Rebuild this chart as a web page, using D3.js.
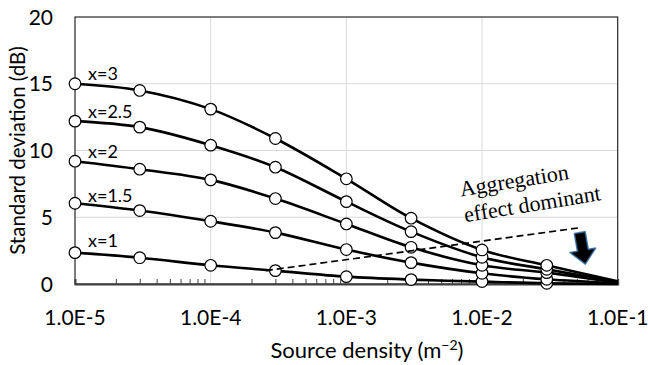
<!DOCTYPE html>
<html>
<head>
<meta charset="utf-8">
<script src="https://cdn.jsdelivr.net/npm/d3@7"></script>
<style>
  html, body { margin: 0; padding: 0; background: #fff; }
  svg { display: block; }
  text { font-family: Lato, "Open Sans", sans-serif; fill: #000; }
</style>
</head>
<body>
<svg id="chart" width="648" height="365"></svg>
<script>
// ---- data ----
const densities = [1e-5, 3e-5, 1e-4, 3e-4, 1e-3, 3e-3, 1e-2, 3e-2, 1e-1];
const seriesNames = ["x=1", "x=1.5", "x=2", "x=2.5", "x=3"];
const sdX1   = [2.35, 1.97, 1.40, 1.00, 0.55, 0.33, 0.18, 0.05, 0.01];
const sdX15  = [6.05, 5.50, 4.70, 3.85, 2.58, 1.60, 0.80, 0.35, 0.05];
const sdX2   = [9.20, 8.60, 7.80, 6.40, 4.50, 2.75, 1.40, 0.85, 0.10];
const sdX25  = [12.2, 11.75, 10.4, 8.75, 6.17, 3.92, 2.00, 1.10, 0.15];
const sdX3   = [15.0, 14.5, 13.1, 10.9, 7.88, 4.93, 2.55, 1.40, 0.20];
const markerFlags = [1, 1, 1, 1, 1, 1, 1, 1, 0];
const xTickValues = [1e-5, 1e-4, 1e-3, 1e-2, 1e-1];
const xTickLabels = ["1.0E-5", "1.0E-4", "1.0E-3", "1.0E-2", "1.0E-1"];
const yTickValues = [0, 5, 10, 15, 20];
const dashedX = [2.55e-4, 0.0532];
const dashedY = [1.0, 4.22];
const annotationLines = ["Aggregation", "effect dominant"];
const annotationAt = [0.00700, 6.55];
const arrowAt = [0.0525, 3.85];

const seriesValues = [sdX1, sdX15, sdX2, sdX25, sdX3];

// ---- layout ----
const svg = d3.select("#chart");
const pL = 75, pR = 617.7, pT = 17, pB = 284;

const x = d3.scaleLog().domain([1e-5, 1e-1]).range([pL, pR]);
const y = d3.scaleLinear().domain([0, 20]).range([pB, pT]);

// gridlines
const grid = svg.append("g");
grid.selectAll("line.h").data(yTickValues.filter(v => v > 0 && v < 20)).join("line")
  .attr("x1", pL).attr("x2", pR)
  .attr("y1", d => y(d)).attr("y2", d => y(d))
  .attr("stroke", "#d9d9d9").attr("stroke-width", 1);
grid.selectAll("line.v").data(xTickValues.slice(1, -1)).join("line")
  .attr("x1", d => x(d)).attr("x2", d => x(d))
  .attr("y1", pT).attr("y2", pB)
  .attr("stroke", "#d9d9d9").attr("stroke-width", 1);

// frame
svg.append("rect")
  .attr("x", pL).attr("y", pT)
  .attr("width", pR - pL).attr("height", pB - pT)
  .attr("fill", "none").attr("stroke", "#262626").attr("stroke-width", 1.2);

// x axis with minor ticks (inside)
const xAxis = d3.axisBottom(x)
  .tickValues(x.ticks().filter(v => xTickValues.indexOf(v) < 0))
  .tickSize(-5).tickFormat("");
const gx = svg.append("g").attr("transform", `translate(0,${pB})`).call(xAxis);
gx.select(".domain").attr("stroke", "#404040").attr("stroke-width", 2);
gx.selectAll(".tick line").attr("stroke", "#404040").attr("stroke-width", 1);

// x tick labels
svg.append("g").selectAll("text").data(xTickValues).join("text")
  .attr("x", d => x(d)).attr("y", 325)
  .attr("text-anchor", "middle")
  .style("font-size", "21px")
  .text((d, i) => xTickLabels[i]);

// y tick labels
svg.append("g").selectAll("text").data(yTickValues).join("text")
  .attr("x", 53).attr("y", d => y(d))
  .attr("dy", "0.36em")
  .attr("text-anchor", "end")
  .style("font-size", "21px")
  .text(d => d);

// axis titles
svg.append("text")
  .attr("transform", `translate(18,${(pT + pB) / 2}) rotate(-90)`)
  .attr("text-anchor", "middle").attr("dy", "0.35em")
  .style("font-size", "20.5px")
  .text("Standard deviation (dB)");

const xt = svg.append("text")
  .attr("x", 367).attr("y", 358)
  .attr("text-anchor", "middle")
  .style("font-size", "22px");
xt.append("tspan").text("Source density (m");
xt.append("tspan").attr("dy", -8).style("font-size", "14px").text("\u22122");
xt.append("tspan").attr("dy", 8).text(")");

// series
const line = d3.line()
  .x(d => x(d[0])).y(d => y(d[1]))
  .curve(d3.curveCatmullRom.alpha(0.5));

seriesValues.forEach((vals, si) => {
  const pts = densities.map((dd, i) => [dd, vals[i]]);
  svg.append("path").datum(pts)
    .attr("d", line)
    .attr("fill", "none").attr("stroke", "#000").attr("stroke-width", 2.6);
});
seriesValues.forEach((vals, si) => {
  const pts = densities.map((dd, i) => [dd, vals[i], markerFlags[i]]).filter(p => p[2]);
  svg.append("g").selectAll("circle").data(pts).join("circle")
    .attr("cx", d => x(d[0])).attr("cy", d => y(d[1]))
    .attr("r", 5.8)
    .attr("fill", "#fff").attr("stroke", "#000").attr("stroke-width", 1.2);
});

// series labels
const labelY = [247, 202, 157.5, 117.5, 79.5];
svg.append("g").selectAll("text").data(seriesNames).join("text")
  .attr("x", 88).attr("y", (d, i) => labelY[i])
  .style("font-size", "18px")
  .text(d => d);

// dashed annotation line
svg.append("line")
  .attr("x1", x(dashedX[0])).attr("y1", y(dashedY[0]))
  .attr("x2", x(dashedX[1])).attr("y2", y(dashedY[1]))
  .attr("stroke", "#000").attr("stroke-width", 1.7)
  .attr("stroke-dasharray", "7,4");

// annotation text
const ag = svg.append("g")
  .attr("transform", `translate(${x(annotationAt[0])},${y(annotationAt[1])}) rotate(-9.2)`);
ag.selectAll("text").data(annotationLines).join("text")
  .attr("x", 0).attr("y", (d, i) => i * 26)
  .style("font-family", "'Liberation Serif', 'Times New Roman', serif")
  .style("font-size", "22px")
  .text(d => d);

// block arrow
const ax = x(arrowAt[0]), ay = y(arrowAt[1]);
const arrowPath = "M-5.5,0 L5.5,0 L5.5,18 L13,18 L0,32 L-13,18 L-5.5,18 Z";
svg.append("path")
  .attr("transform", `translate(${ax},${ay}) rotate(-10)`)
  .attr("d", arrowPath)
  .attr("fill", "#000").attr("stroke", "#2e6da4").attr("stroke-width", 1.6)
  .attr("stroke-opacity", 0.8).attr("stroke-linejoin", "round");
</script>
</body>
</html>
